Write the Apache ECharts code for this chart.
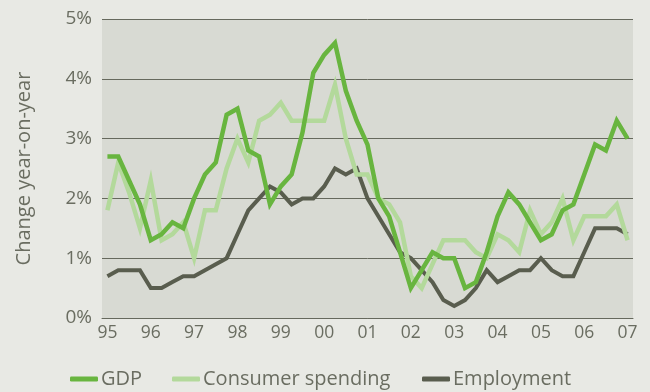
<!DOCTYPE html>
<html>
<head>
<meta charset="utf-8">
<script src="https://cdn.jsdelivr.net/npm/echarts@6/dist/echarts.min.js"></script>
<style>
  html, body { margin: 0; padding: 0; background: #e8e9e4; }
  #chart { width: 650px; height: 392px; }
</style>
</head>
<body>
<div id="chart"></div>
<script>
// Quarterly year-on-year growth, 1995 Q1 to 2007 Q1
var quarters = [
  '95Q1','95Q2','95Q3','95Q4','96Q1','96Q2','96Q3','96Q4',
  '97Q1','97Q2','97Q3','97Q4','98Q1','98Q2','98Q3','98Q4',
  '99Q1','99Q2','99Q3','99Q4','00Q1','00Q2','00Q3','00Q4',
  '01Q1','01Q2','01Q3','01Q4','02Q1','02Q2','02Q3','02Q4',
  '03Q1','03Q2','03Q3','03Q4','04Q1','04Q2','04Q3','04Q4',
  '05Q1','05Q2','05Q3','05Q4','06Q1','06Q2','06Q3','06Q4',
  '07Q1'
];

var gdp = [
  2.7, 2.7, 2.3, 1.9, 1.3, 1.4, 1.6, 1.5,
  2.0, 2.4, 2.6, 3.4, 3.5, 2.8, 2.7, 1.9,
  2.2, 2.4, 3.1, 4.1, 4.4, 4.6, 3.8, 3.3,
  2.9, 2.0, 1.7, 1.1, 0.5, 0.8, 1.1, 1.0,
  1.0, 0.5, 0.6, 1.1, 1.7, 2.1, 1.9, 1.6,
  1.3, 1.4, 1.8, 1.9, 2.4, 2.9, 2.8, 3.3,
  3.0
];

var consumer = [
  1.8, 2.6, 2.1, 1.5, 2.3, 1.3, 1.4, 1.6,
  1.0, 1.8, 1.8, 2.5, 3.0, 2.6, 3.3, 3.4,
  3.6, 3.3, 3.3, 3.3, 3.3, 3.9, 3.0, 2.4,
  2.4, 2.0, 1.9, 1.6, 0.7, 0.5, 0.9, 1.3,
  1.3, 1.3, 1.1, 1.0, 1.4, 1.3, 1.1, 1.8,
  1.4, 1.6, 2.0, 1.3, 1.7, 1.7, 1.7, 1.9,
  1.3
];

var employment = [
  0.7, 0.8, 0.8, 0.8, 0.5, 0.5, 0.6, 0.7,
  0.7, 0.8, 0.9, 1.0, 1.4, 1.8, 2.0, 2.2,
  2.1, 1.9, 2.0, 2.0, 2.2, 2.5, 2.4, 2.5,
  2.0, 1.7, 1.4, 1.1, 1.0, 0.8, 0.6, 0.3,
  0.2, 0.3, 0.5, 0.8, 0.6, 0.7, 0.8, 0.8,
  1.0, 0.8, 0.7, 0.7, 1.1, 1.5, 1.5, 1.5,
  1.4
];

var yTicks = [0, 1, 2, 3, 4, 5];

var FONT = "'Open Sans', 'DejaVu Sans', sans-serif";
var WEIGHT = 400;
var TEXT = '#6a6d61';
var GRIDLINE = '#66695d';

var chart = echarts.init(document.getElementById('chart'), null, { renderer: 'canvas' });

function legendAt(left, name) {
  return {
    left: left,
    top: 369,
    data: [name],
    icon: 'roundRect',
    itemWidth: 28,
    itemHeight: 5,
    padding: 0,
    textStyle: { fontFamily: FONT, fontWeight: WEIGHT, fontSize: 20, color: TEXT, padding: [0, 0, 0, -2] },
    selectedMode: false
  };
}

chart.setOption({
  backgroundColor: '#e8e9e4',
  animation: false,
  grid: {
    left: 102, right: 17, top: 19, bottom: 74,
    show: true, backgroundColor: '#d8dad3', borderWidth: 0
  },
  legend: [
    legendAt(70, 'GDP'),
    legendAt(172, 'Consumer spending'),
    legendAt(422, 'Employment')
  ],
  xAxis: {
    type: 'category',
    data: quarters,
    boundaryGap: true,
    axisLine: { show: true, lineStyle: { color: GRIDLINE, width: 1 } },
    axisTick: { show: false },
    axisLabel: {
      interval: 3,
      margin: 6,
      fontFamily: FONT, fontWeight: WEIGHT, fontSize: 17.5, color: TEXT,
      formatter: function (v) { return v.slice(0, 2); }
    },
    splitLine: { show: false }
  },
  yAxis: {
    type: 'value',
    min: yTicks[0],
    max: yTicks[yTicks.length - 1],
    interval: 1,
    name: 'Change year-on-year',
    nameLocation: 'middle',
    nameGap: 68,
    nameTextStyle: { fontFamily: FONT, fontWeight: WEIGHT, fontSize: 20, color: TEXT },
    axisLine: { show: false },
    axisTick: { show: false },
    axisLabel: {
      margin: 10,
      fontFamily: FONT, fontWeight: WEIGHT, fontSize: 19, color: TEXT,
      formatter: '{value}%'
    },
    splitLine: { show: true, lineStyle: { color: GRIDLINE, width: 1 } }
  },
  series: [
    {
      name: 'GDP', type: 'line', data: gdp, z: 4,
      symbol: 'none', smooth: false,
      lineStyle: { color: '#68b53f', width: 4.5, join: 'miter' },
      itemStyle: { color: '#68b53f' }
    },
    {
      name: 'Consumer spending', type: 'line', data: consumer, z: 3,
      symbol: 'none',
      lineStyle: { color: '#b3d99b', width: 4.5, join: 'miter' },
      itemStyle: { color: '#b3d99b' }
    },
    {
      name: 'Employment', type: 'line', data: employment, z: 2,
      symbol: 'none',
      lineStyle: { color: '#595d4e', width: 4, join: 'miter' },
      itemStyle: { color: '#595d4e' }
    }
  ]
});
</script>
</body>
</html>
